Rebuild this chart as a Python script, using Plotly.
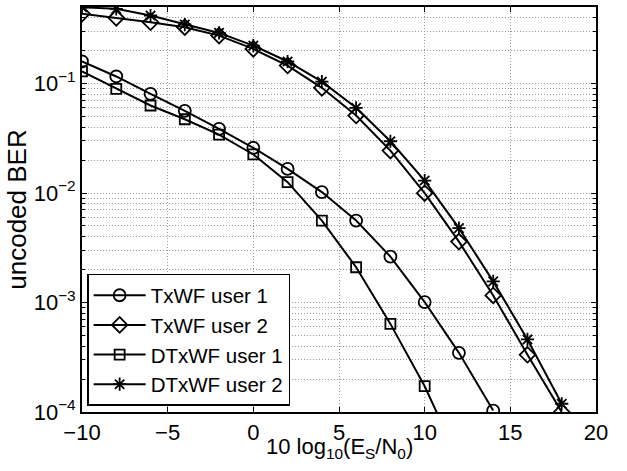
import plotly.graph_objects as go

x_all = [-10, -8, -6, -4, -2, 0, 2, 4, 6, 8, 10, 12, 14, 16, 18]

txwf_u1_x = [-10, -8, -6, -4, -2, 0, 2, 4, 6, 8, 10, 12, 14]
txwf_u1 = [0.159, 0.116, 0.0805, 0.0563, 0.0385, 0.0259, 0.0166, 0.0102, 0.0056, 0.00263, 0.00101, 3.47e-4, 1.03e-4]

txwf_u2_x = x_all
txwf_u2 = [0.434, 0.398, 0.363, 0.327, 0.274, 0.207, 0.146, 0.0914, 0.051, 0.0244, 0.00996, 0.0036, 0.00116, 3.33e-4, 1.0e-4]

dtxwf_u1_x = [-10, -8, -6, -4, -2, 0, 2, 4, 6, 8, 10, 12]
dtxwf_u1 = [0.129, 0.0895, 0.063, 0.0472, 0.0342, 0.0225, 0.01256, 0.0056, 0.0021, 6.38e-4, 1.72e-4, 3.6e-5]

dtxwf_u2_x = x_all
dtxwf_u2 = [0.497, 0.481, 0.418, 0.346, 0.290, 0.222, 0.159, 0.104, 0.060, 0.0297, 0.013, 0.00478, 0.00156, 4.6e-4, 1.19e-4]

y_tickvals = [1e-4, 1e-3, 1e-2, 1e-1]
y_ticktext = ["10<sup>\u22124</sup>", "10<sup>\u22123</sup>", "10<sup>\u22122</sup>", "10<sup>\u22121</sup>"]
y_minor = [m * 10 ** e for e in (-4, -3, -2, -1) for m in range(2, 10)]
x_tickvals = [-10, -5, 0, 5, 10, 15, 20]
x_ticktext = ["\u221210", "\u22125", "0", "5", "10", "15", "20"]
x_title = "10 log<sub>10</sub>(E<sub>S</sub>/N<sub>0</sub>)"
y_title = "uncoded BER"

series = [
    ("TxWF user 1", txwf_u1_x, txwf_u1, "circle-open", 12),
    ("TxWF user 2", txwf_u2_x, txwf_u2, "diamond-open", 12),
    ("DTxWF user 1", dtxwf_u1_x, dtxwf_u1, "square-open", 10),
    ("DTxWF user 2", dtxwf_u2_x, dtxwf_u2, "asterisk-open", 11),
]

fig = go.Figure()
for name, xs, ys, sym, sz in series:
    fig.add_trace(go.Scatter(
        x=xs, y=ys, name=name, mode="lines+markers",
        line=dict(color="black", width=2),
        marker=dict(symbol=sym, size=sz, color="black", line=dict(color="black", width=1.8)),
    ))

font = "Liberation Sans, Arial, sans-serif"
gridc = "#9a9a9a"
gdash = "1px,2px"

fig.update_layout(
    width=627, height=471,
    margin=dict(l=82, r=31, t=5, b=59),
    paper_bgcolor="white", plot_bgcolor="white",
    font=dict(family=font, size=22, color="black"),
    showlegend=True,
    legend=dict(
        x=0.01, y=0.015, xanchor="left", yanchor="bottom",
        bgcolor="white", bordercolor="black", borderwidth=1.5,
        font=dict(size=20.5), tracegroupgap=0, itemwidth=52,
    ),
    xaxis=dict(
        range=[-10, 20], tickmode="array", tickvals=x_tickvals, ticktext=x_ticktext,
        ticks="inside", ticklen=5, tickcolor="black",
        showline=True, linecolor="black", linewidth=1.8, mirror="ticks",
        zeroline=False,
        showgrid=True, gridcolor=gridc, griddash=gdash, gridwidth=1,
    ),
    yaxis=dict(
        type="log", range=[-4, -0.301],
        tickmode="array", tickvals=y_tickvals, ticktext=y_ticktext,
        ticks="inside", ticklen=5, tickcolor="black",
        showline=True, linecolor="black", linewidth=1.8, mirror="ticks",
        zeroline=False,
        showgrid=True, gridcolor=gridc, griddash=gdash, gridwidth=1,
        title=dict(text=y_title, standoff=0),
        minor=dict(tickmode="array", tickvals=y_minor, ticks="inside", ticklen=3,
                   tickcolor="black", showgrid=True, gridcolor=gridc, griddash=gdash, gridwidth=1),
    ),
    annotations=[dict(
        text=x_title, xref="paper", yref="paper", x=0.5, y=-0.088,
        xanchor="center", yanchor="middle", showarrow=False,
        font=dict(size=22),
    )],
)

fig.write_html("out.html")
